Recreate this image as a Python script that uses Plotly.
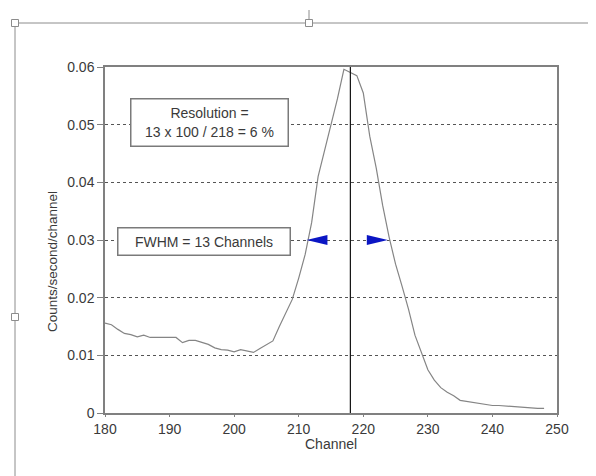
import plotly.graph_objects as go

# ---- data ----
channels = list(range(180, 249))
counts = [
    0.0156, 0.0153, 0.0145, 0.0138, 0.0136, 0.0132, 0.0135, 0.0131, 0.0131, 0.0131,  # 180-189
    0.0131, 0.0131, 0.0122, 0.0126, 0.0126, 0.0122, 0.0119, 0.0113, 0.0110, 0.0109,  # 190-199
    0.0106, 0.0110, 0.0108, 0.0105, 0.0112, 0.0118, 0.0125, 0.0150, 0.0175, 0.0197,  # 200-209
    0.0234, 0.0275, 0.0330, 0.0410, 0.0455, 0.0500, 0.0545, 0.0596, 0.0591, 0.0585,  # 210-219
    0.0555, 0.0480, 0.0425, 0.0360, 0.0305, 0.0258, 0.0220, 0.0180, 0.0135, 0.0105,  # 220-229
    0.0075, 0.0057, 0.0044, 0.0036, 0.0030, 0.0022, 0.0020, 0.0018, 0.0016, 0.0014,  # 230-239
    0.0013, 0.0013, 0.0012, 0.0011, 0.0011, 0.0010, 0.0009, 0.0008, 0.0008,          # 240-248
]
x_ticks = [180, 190, 200, 210, 220, 230, 240, 250]
y_ticks = [0, 0.01, 0.02, 0.03, 0.04, 0.05, 0.06]
y_tick_labels = ["0", "0.01", "0.02", "0.03", "0.04", "0.05", "0.06"]

peak_channel = 218
fwhm_edges = [211.2, 223.8]
fwhm_level = 0.03

resolution_text = "Resolution =<br>13 x 100 / 218 = 6 %"
resolution_pos = (196.2, 0.0504)
fwhm_text = "FWHM = 13 Channels"
fwhm_pos = (195.3, 0.0298)
x_title = "Channel"
y_title = "Counts/second/channel"

FONT = "Liberation Sans, Arial, sans-serif"
TXT = "#3a3a3a"
AXC = "#808080"

# the page body has an 8 px margin, so the figure is drawn 8 px in from the window edge
OFF = 8
FIG_W, FIG_H = 596 - OFF, 476 - OFF
L, T, W, H = 105 - OFF, 67 - OFF, 452, 346

fig = go.Figure()
fig.add_trace(go.Scatter(
    x=channels, y=counts, mode="lines",
    line=dict(color="#858585", width=1.2), hoverinfo="skip", showlegend=False,
))

shapes = []
# vertical line at the peak channel
shapes.append(dict(type="line", xref="x", yref="y", x0=peak_channel, x1=peak_channel,
                   y0=y_ticks[0], y1=y_ticks[-1], line=dict(color="#111111", width=1.2)))
# FWHM arrow heads
shapes.append(dict(type="path", xref="x", yref="y", xsizemode="pixel", ysizemode="pixel",
                   xanchor=fwhm_edges[0], yanchor=fwhm_level,
                   path="M0,0 L21,5 L21,-5 Z", fillcolor="#0b16c4", line=dict(width=0)))
shapes.append(dict(type="path", xref="x", yref="y", xsizemode="pixel", ysizemode="pixel",
                   xanchor=fwhm_edges[1], yanchor=fwhm_level,
                   path="M0,0 L-21,5 L-21,-5 Z", fillcolor="#0b16c4", line=dict(width=0)))

# page-frame decoration (outside the plot area), window pixel coordinates
def px(xp):
    return (xp - OFF - L) / W
def py(yp):
    return (T + H - (yp - OFF)) / H
DEC = "#8c8c8c"
shapes.append(dict(type="line", xref="paper", yref="paper", x0=px(15), x1=px(600),
                   y0=py(23), y1=py(23), line=dict(color=DEC, width=1)))
shapes.append(dict(type="line", xref="paper", yref="paper", x0=px(15), x1=px(15),
                   y0=py(23), y1=py(480), line=dict(color=DEC, width=1)))
shapes.append(dict(type="line", xref="paper", yref="paper", x0=px(309), x1=px(309),
                   y0=py(10), y1=py(19), line=dict(color=DEC, width=1)))
for hx, hy in [(15, 23), (309, 23), (15, 317)]:
    shapes.append(dict(type="rect", xref="paper", yref="paper", xsizemode="pixel",
                       ysizemode="pixel", xanchor=px(hx), yanchor=py(hy),
                       x0=-3.5, x1=3.5, y0=-3.5, y1=3.5,
                       fillcolor="white", line=dict(color=DEC, width=1)))

annotations = [
    dict(x=resolution_pos[0], y=resolution_pos[1], xref="x", yref="y", text=resolution_text,
         showarrow=False, font=dict(family=FONT, size=14, color=TXT), align="center",
         bgcolor="white", bordercolor="#7a7a7a", borderwidth=1.5, borderpad=0,
         width=156, height=46),
    dict(x=fwhm_pos[0], y=fwhm_pos[1], xref="x", yref="y", text=fwhm_text,
         showarrow=False, font=dict(family=FONT, size=14, color=TXT), align="center",
         bgcolor="white", bordercolor="#7a7a7a", borderwidth=1.5, borderpad=0,
         width=171, height=26),
    dict(x=px(52), y=py(262), xref="paper", yref="paper", text=y_title,
         showarrow=False, textangle=-90, font=dict(family=FONT, size=13.5, color=TXT),
         xanchor="center", yanchor="middle"),
    dict(x=0.5, y=py(444), xref="paper", yref="paper", text=x_title,
         showarrow=False, font=dict(family=FONT, size=14, color=TXT),
         xanchor="center", yanchor="middle"),
]

fig.update_layout(
    width=FIG_W, height=FIG_H,
    margin=dict(l=L, r=FIG_W - L - W, t=T, b=FIG_H - T - H),
    paper_bgcolor="white", plot_bgcolor="white",
    font=dict(family=FONT, size=14, color=TXT),
    shapes=shapes, annotations=annotations,
    xaxis=dict(range=[180, 250], tickvals=x_ticks, ticks="outside", ticklen=2,
               tickcolor=AXC, showline=True, linecolor=AXC, linewidth=1.5, mirror=True,
               showgrid=False, zeroline=False,
               tickfont=dict(family=FONT, size=14, color=TXT)),
    yaxis=dict(range=[0, 0.06], tickvals=y_ticks, ticktext=y_tick_labels, ticks="outside",
               ticklen=6, tickcolor=AXC, showline=True, linecolor=AXC, linewidth=1.5,
               mirror=True, showgrid=True, gridcolor="#555555", griddash="dot", gridwidth=1,
               zeroline=False, tickfont=dict(family=FONT, size=14, color=TXT)),
)

fig.write_html("out.html")
